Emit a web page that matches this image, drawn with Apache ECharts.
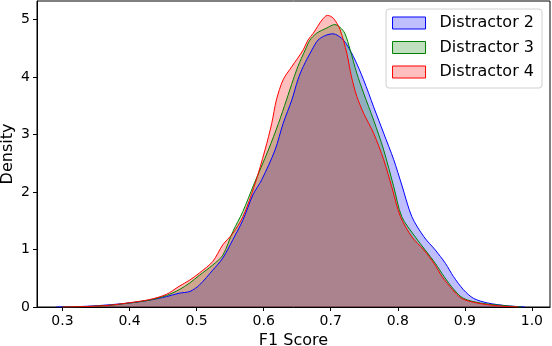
<!DOCTYPE html>
<html>
<head>
<meta charset="utf-8">
<script src="https://cdn.jsdelivr.net/npm/echarts@6/dist/echarts.min.js"></script>
<style>
  html, body { margin: 0; padding: 0; background: #fff; }
  #chart { width: 552px; height: 346px; }
</style>
</head>
<body>
<div id="chart"></div>
<script>
// KDE curves: [F1 score, density]
const distractor2 = [
  [0.29, 0], [0.33, 0.01], [0.36, 0.03], [0.40, 0.07], [0.43, 0.12], [0.455, 0.18],
  [0.474, 0.24], [0.49, 0.27], [0.504, 0.38], [0.524, 0.64], [0.539, 0.85], [0.554, 1.17],
  [0.569, 1.51], [0.584, 1.95], [0.597, 2.21], [0.617, 2.73], [0.629, 3.19], [0.642, 3.60],
  [0.651, 3.95], [0.659, 4.18], [0.672, 4.47], [0.681, 4.64], [0.692, 4.72], [0.703, 4.75],
  [0.719, 4.64], [0.734, 4.35], [0.749, 3.95], [0.764, 3.48], [0.779, 3.02], [0.794, 2.56],
  [0.806, 2.12], [0.821, 1.57], [0.839, 1.22], [0.856, 0.99], [0.871, 0.76], [0.883, 0.53],
  [0.898, 0.30], [0.913, 0.15], [0.934, 0.07], [0.964, 0.02], [0.99, 0]
];
const distractor3 = [
  [0.30, 0], [0.34, 0.01], [0.37, 0.03], [0.40, 0.07], [0.43, 0.12], [0.455, 0.20],
  [0.474, 0.30], [0.49, 0.42], [0.504, 0.55], [0.524, 0.73], [0.539, 0.90], [0.554, 1.31],
  [0.569, 1.66], [0.585, 2.12], [0.607, 2.73], [0.622, 3.19], [0.634, 3.60], [0.644, 3.95],
  [0.651, 4.18], [0.662, 4.47], [0.669, 4.64], [0.679, 4.76], [0.694, 4.85], [0.706, 4.91],
  [0.714, 4.86], [0.721, 4.76], [0.729, 4.47], [0.739, 4.06], [0.749, 3.72], [0.764, 3.25],
  [0.779, 2.73], [0.794, 2.09], [0.806, 1.57], [0.826, 1.22], [0.841, 0.99], [0.856, 0.76],
  [0.869, 0.53], [0.884, 0.30], [0.898, 0.15], [0.923, 0.07], [0.953, 0.03], [0.985, 0]
];
const distractor4 = [
  [0.30, 0], [0.34, 0.01], [0.37, 0.03], [0.40, 0.075], [0.43, 0.13], [0.455, 0.22],
  [0.474, 0.36], [0.49, 0.47], [0.504, 0.59], [0.524, 0.79], [0.539, 1.08], [0.554, 1.28],
  [0.569, 1.57], [0.586, 2.10], [0.602, 2.73], [0.612, 3.19], [0.619, 3.60],
  [0.629, 3.95], [0.642, 4.18], [0.659, 4.47], [0.666, 4.64], [0.674, 4.76], [0.687, 4.99],
  [0.695, 5.07], [0.704, 5.02], [0.714, 4.82], [0.724, 4.41], [0.731, 4.00], [0.739, 3.66],
  [0.749, 3.37], [0.764, 3.02], [0.779, 2.56], [0.791, 2.09], [0.804, 1.57], [0.821, 1.22],
  [0.839, 0.99], [0.854, 0.76], [0.866, 0.53], [0.882, 0.30], [0.895, 0.15], [0.918, 0.07],
  [0.95, 0.02], [0.98, 0]
];
const seriesNames = ['Distractor 2', 'Distractor 3', 'Distractor 4'];
const xTicks = [0.3, 0.4, 0.5, 0.6, 0.7, 0.8, 0.9, 1.0];
const yTicks = [0, 1, 2, 3, 4, 5];

const colors = ['#0000ff', '#008000', '#ff0000'];
const fills = ['rgba(0,0,255,0.25)', 'rgba(0,128,0,0.25)', 'rgba(255,0,0,0.25)'];
const curves = [distractor2, distractor3, distractor4];
const font = 'DejaVu Sans';

const chart = echarts.init(document.getElementById('chart'));
chart.setOption({
  animation: false,
  textStyle: { fontFamily: font, color: '#000' },
  grid: {
    left: 37, right: 2, top: 1, bottom: 39,
    outerBoundsMode: 'none',
    show: true, borderColor: '#000', borderWidth: 1
  },
  legend: {
    right: 10, top: 9,
    orient: 'vertical',
    padding: [6, 8, 8, 6],
    itemWidth: 33, itemHeight: 12, itemGap: 8.5,
    backgroundColor: '#fff',
    borderColor: '#d0d0d0', borderWidth: 1, borderRadius: 3,
    textStyle: { fontFamily: font, fontSize: 16, color: '#000', lineHeight: 16, padding: [0, 0, 0, 9] },
    data: seriesNames.map((n, i) => ({
      name: n, icon: 'rect',
      itemStyle: { color: fills[i], borderColor: colors[i], borderWidth: 1 }
    }))
  },
  xAxis: {
    type: 'value', min: 0.262, max: 1.027,
    name: 'F1 Score', nameLocation: 'middle', nameGap: 22,
    nameTextStyle: { fontFamily: font, fontSize: 16, color: '#000' },
    axisLine: { lineStyle: { color: '#000' } },
    axisTick: { customValues: xTicks, length: 4, lineStyle: { color: '#000' } },
    axisLabel: {
      customValues: xTicks, margin: 7, fontSize: 14, color: '#000', fontFamily: font,
      formatter: v => v.toFixed(1)
    },
    splitLine: { show: false }
  },
  yAxis: {
    type: 'value', min: 0, max: 5.32,
    name: 'Density', nameLocation: 'middle', nameGap: 21, nameMoveOverlap: false,
    nameTextStyle: { fontFamily: font, fontSize: 16, color: '#000' },
    axisLine: { show: true, lineStyle: { color: '#000' } },
    axisTick: { show: true, customValues: yTicks, length: 4, lineStyle: { color: '#000' } },
    axisLabel: { customValues: yTicks, margin: 7, fontSize: 14, color: '#000', fontFamily: font },
    splitLine: { show: false }
  },
  series: curves.map((c, i) => ({
    name: seriesNames[i],
    type: 'line',
    data: c,
    smooth: 0.3,
    showSymbol: false,
    itemStyle: { color: colors[i] },
    lineStyle: { color: colors[i], width: 1 },
    areaStyle: { color: fills[i], opacity: 1 }
  }))
});
</script>
</body>
</html>
